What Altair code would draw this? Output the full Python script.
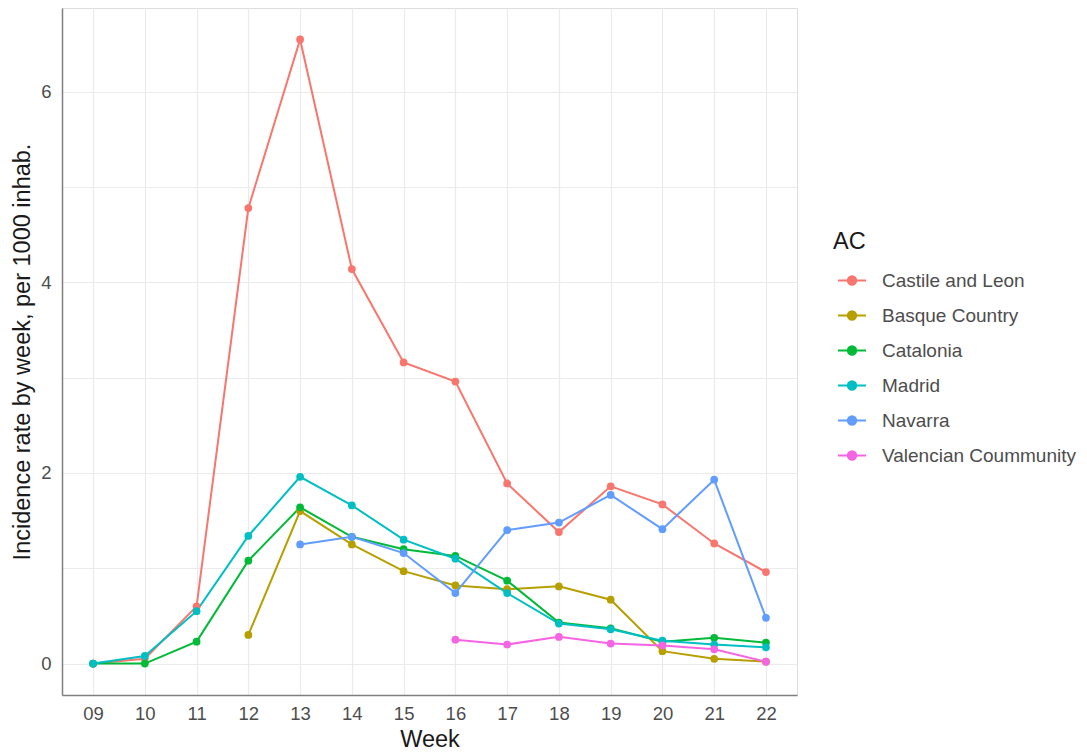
import altair as alt
import pandas as pd

weeks = ["09", "10", "11", "12", "13", "14", "15", "16", "17", "18", "19", "20", "21", "22"]
regions = ["Castile and Leon", "Basque Country", "Catalonia", "Madrid", "Navarra", "Valencian Coummunity"]
colors = ["#F8766D", "#B79F00", "#00BA38", "#00BFC4", "#619CFF", "#F564E3"]

castile = [0.0, 0.05, 0.60, 4.78, 6.55, 4.14, 3.16, 2.96, 1.89, 1.38, 1.86, 1.67, 1.26, 0.96]
basque = [None, None, None, 0.30, 1.60, 1.25, 0.97, 0.82, 0.78, 0.81, 0.67, 0.13, 0.05, 0.02]
catalonia = [0.0, 0.0, 0.23, 1.08, 1.64, 1.33, 1.20, 1.13, 0.87, 0.43, 0.37, 0.23, 0.27, 0.22]
madrid = [0.0, 0.08, 0.55, 1.34, 1.96, 1.66, 1.30, 1.10, 0.74, 0.42, 0.36, 0.24, 0.20, 0.17]
navarra = [None, None, None, None, 1.25, 1.33, 1.16, 0.74, 1.40, 1.48, 1.77, 1.41, 1.93, 0.48]
valencia = [None, None, None, None, None, None, None, 0.25, 0.20, 0.28, 0.21, 0.19, 0.15, 0.02]

series = [castile, basque, catalonia, madrid, navarra, valencia]
rows = []
for name, vals in zip(regions, series):
    for w, v in zip(weeks, vals):
        if v is not None:
            rows.append({"Week": w, "AC": name, "rate": v})
df = pd.DataFrame(rows)

FONT = "Liberation Sans"
TICK_FS = 18.5
TITLE_FS = 23.5

x = alt.X("Week:O", sort=weeks,
          scale=alt.Scale(type="point", padding=0.6, domain=weeks),
          axis=alt.Axis(title="Week", labelAngle=0, ticks=False, domainColor="#7f7f7f",
                        domainWidth=1.5, gridColor="#ebebeb", gridWidth=1.2, grid=True,
                        labelFontSize=TICK_FS, labelColor="#4d4d4d", labelPadding=9,
                        titleFontSize=TITLE_FS, titleFontWeight="normal", titleColor="#1a1a1a",
                        titlePadding=5, labelFont=FONT, titleFont=FONT))
y = alt.Y("rate:Q", scale=alt.Scale(domain=[-0.33, 6.88], nice=False, zero=False),
          axis=alt.Axis(title="Incidence rate by week, per 1000 inhab.", values=[0, 1, 2, 3, 4, 5, 6],
                        labelExpr="datum.value % 2 == 0 ? datum.label : ''",
                        ticks=False, domainColor="#7f7f7f", domainWidth=1.5,
                        gridColor="#ebebeb", gridWidth=1.2,
                        labelFontSize=TICK_FS, labelColor="#4d4d4d", labelPadding=11,
                        titleFontSize=TITLE_FS, titleFontWeight="normal", titleColor="#1a1a1a",
                        titlePadding=6, labelFont=FONT, titleFont=FONT))

sym = ("M-1,0L1,0M0.3,0A0.3,0.3 0 1 1 -0.3,0A0.3,0.3 0 1 1 0.3,0"
       "M0.18,0A0.18,0.18 0 1 1 -0.18,0A0.18,0.18 0 1 1 0.18,0"
       "M0.07,0A0.07,0.07 0 1 1 -0.07,0A0.07,0.07 0 1 1 0.07,0")

color = alt.Color("AC:N", scale=alt.Scale(domain=regions, range=colors),
                  legend=alt.Legend(title="AC", orient="none", legendX=771, legendY=222,
                                    symbolType=sym, symbolSize=784, symbolStrokeWidth=2,
                                    symbolOffset=4, labelLimit=400,
                                    labelFontSize=19, labelColor="#4d4d4d", labelFont=FONT,
                                    titleFontSize=TITLE_FS, titleFontWeight="normal", titleColor="#1a1a1a",
                                    titleFont=FONT, rowPadding=10, titlePadding=12, labelOffset=15))

base = alt.Chart(df)
lines = base.mark_line(strokeWidth=2).encode(x=x, y=y, color=color, detail="AC:N")
points = base.mark_circle(size=60, opacity=1).encode(x=x, y=y, color=alt.Color("AC:N", scale=alt.Scale(domain=regions, range=colors), legend=None))

chart = alt.layer(lines, points).properties(
    width=735, height=687,
    padding={"left": 62, "top": 8, "right": 290, "bottom": 60},
    autosize=alt.AutoSizeParams(type="none"),
).configure_view(stroke=None).configure(background="white")

chart.save("out.html", embed_options={"renderer": "svg", "actions": False})
